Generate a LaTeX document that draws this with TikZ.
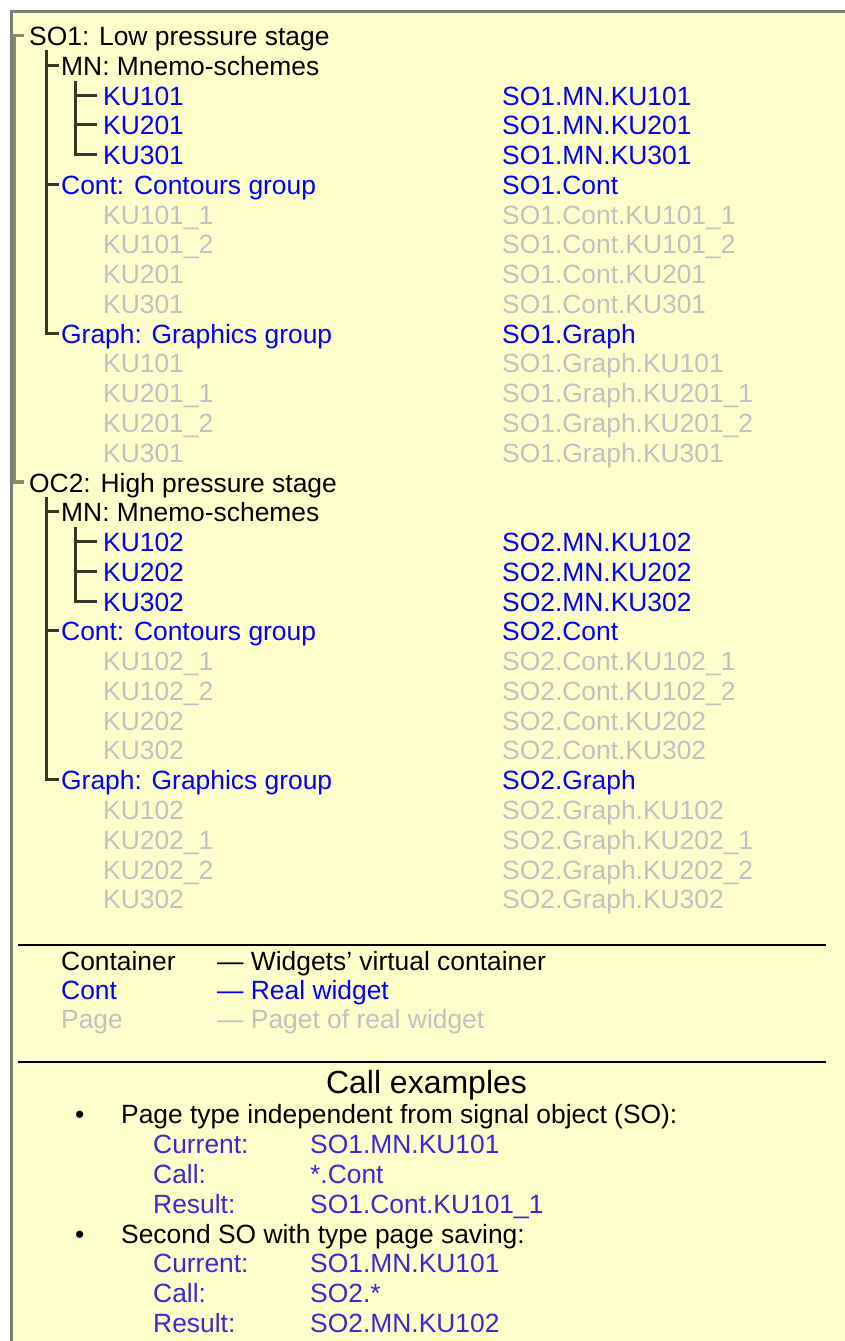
\documentclass[tikz,border=0pt]{standalone}
\usepackage{fontspec}
\setmainfont{Liberation Sans}
\definecolor{bgy}{RGB}{255,255,204}
\definecolor{frm}{RGB}{125,125,115}
\definecolor{tblue}{RGB}{0,0,255}
\definecolor{tgray}{RGB}{192,192,192}
\definecolor{cblue}{RGB}{60,40,210}
\definecolor{lmain}{RGB}{140,140,110}
\definecolor{lsub}{RGB}{55,55,40}
\newcommand{\ry}[1]{45.5+29.77*#1}
\begin{document}
\begin{tikzpicture}[x=1pt,y=-1pt,
 t/.style={inner sep=0pt,anchor=base west,font=\fontsize{26.4}{30}\selectfont},
 tk/.style={t,text=black}, tb/.style={t,text=tblue}, tg/.style={t,text=tgray}, tc/.style={t,text=cblue},
 lnmain/.style={draw=lmain,line width=3.3pt},
 lnsub/.style={draw=lsub,line width=3pt},
 rulel/.style={draw=black,line width=1.5pt}]
\useasboundingbox (0,0) rectangle (845,1341);
\fill[bgy] (10,10) rectangle (845,1341);
\draw[frm,line width=3pt] (11,1341) -- (11,11) -- (845,11);

% ---- tree, SO1
\node[tk] (so1) at (29,{\ry{0}}) {SO1: Low pressure stage};
\node[tk] (mn1) at (61,{\ry{1}}) {MN: Mnemo-schemes};
\node[tb] (k1a) at (103,{\ry{2}}) {KU101};
\node[tb] (k1b) at (103,{\ry{3}}) {KU201};
\node[tb] (k1c) at (103,{\ry{4}}) {KU301};
\node[tb] (ct1) at (61,{\ry{5}}) {Cont: Contours group};
\node[tg] (c1a) at (103,{\ry{6}}) {KU101\_1};
\node[tg] (c1b) at (103,{\ry{7}}) {KU101\_2};
\node[tg] (c1c) at (103,{\ry{8}}) {KU201};
\node[tg] (c1d) at (103,{\ry{9}}) {KU301};
\node[tb] (gr1) at (61,{\ry{10}}) {Graph: Graphics group};
\node[tg] (g1a) at (103,{\ry{11}}) {KU101};
\node[tg] (g1b) at (103,{\ry{12}}) {KU201\_1};
\node[tg] (g1c) at (103,{\ry{13}}) {KU201\_2};
\node[tg] (g1d) at (103,{\ry{14}}) {KU301};
% ---- tree, OC2
\node[tk] (oc2) at (29,{\ry{15}}) {OC2: High pressure stage};
\node[tk] (mn2) at (61,{\ry{16}}) {MN: Mnemo-schemes};
\node[tb] (k2a) at (103,{\ry{17}}) {KU102};
\node[tb] (k2b) at (103,{\ry{18}}) {KU202};
\node[tb] (k2c) at (103,{\ry{19}}) {KU302};
\node[tb] (ct2) at (61,{\ry{20}}) {Cont: Contours group};
\node[tg] (c2a) at (103,{\ry{21}}) {KU102\_1};
\node[tg] (c2b) at (103,{\ry{22}}) {KU102\_2};
\node[tg] (c2c) at (103,{\ry{23}}) {KU202};
\node[tg] (c2d) at (103,{\ry{24}}) {KU302};
\node[tb] (gr2) at (61,{\ry{25}}) {Graph: Graphics group};
\node[tg] (g2a) at (103,{\ry{26}}) {KU102};
\node[tg] (g2b) at (103,{\ry{27}}) {KU202\_1};
\node[tg] (g2c) at (103,{\ry{28}}) {KU202\_2};
\node[tg] (g2d) at (103,{\ry{29}}) {KU302};

% ---- right column
\node[tb] (r02) at (502,{\ry{2}}) {SO1.MN.KU101};
\node[tb] (r03) at (502,{\ry{3}}) {SO1.MN.KU201};
\node[tb] (r04) at (502,{\ry{4}}) {SO1.MN.KU301};
\node[tb] (r05) at (502,{\ry{5}}) {SO1.Cont};
\node[tg] (r06) at (502,{\ry{6}}) {SO1.Cont.KU101\_1};
\node[tg] (r07) at (502,{\ry{7}}) {SO1.Cont.KU101\_2};
\node[tg] (r08) at (502,{\ry{8}}) {SO1.Cont.KU201};
\node[tg] (r09) at (502,{\ry{9}}) {SO1.Cont.KU301};
\node[tb] (r10) at (502,{\ry{10}}) {SO1.Graph};
\node[tg] (r11) at (502,{\ry{11}}) {SO1.Graph.KU101};
\node[tg] (r12) at (502,{\ry{12}}) {SO1.Graph.KU201\_1};
\node[tg] (r13) at (502,{\ry{13}}) {SO1.Graph.KU201\_2};
\node[tg] (r14) at (502,{\ry{14}}) {SO1.Graph.KU301};
\node[tb] (r17) at (502,{\ry{17}}) {SO2.MN.KU102};
\node[tb] (r18) at (502,{\ry{18}}) {SO2.MN.KU202};
\node[tb] (r19) at (502,{\ry{19}}) {SO2.MN.KU302};
\node[tb] (r20) at (502,{\ry{20}}) {SO2.Cont};
\node[tg] (r21) at (502,{\ry{21}}) {SO2.Cont.KU102\_1};
\node[tg] (r22) at (502,{\ry{22}}) {SO2.Cont.KU102\_2};
\node[tg] (r23) at (502,{\ry{23}}) {SO2.Cont.KU202};
\node[tg] (r24) at (502,{\ry{24}}) {SO2.Cont.KU302};
\node[tb] (r25) at (502,{\ry{25}}) {SO2.Graph};
\node[tg] (r26) at (502,{\ry{26}}) {SO2.Graph.KU102};
\node[tg] (r27) at (502,{\ry{27}}) {SO2.Graph.KU202\_1};
\node[tg] (r28) at (502,{\ry{28}}) {SO2.Graph.KU202\_2};
\node[tg] (r29) at (502,{\ry{29}}) {SO2.Graph.KU302};

% ---- tree lines
\foreach \n in {so1,oc2} {\coordinate (\n t) at ([xshift=-5pt,yshift=10pt]\n.base west);}
\foreach \n in {mn1,ct1,gr1,mn2,ct2,gr2} {\coordinate (\n t) at ([xshift=-2pt,yshift=10pt]\n.base west);}
\foreach \n in {k1a,k1b,k1c,k2a,k2b,k2c} {\coordinate (\n t) at ([xshift=-6pt,yshift=10pt]\n.base west);}
\draw[lnmain] (so1t) -- ++(-9.5,0) |- (oc2t);
\foreach \a/\b/\c in {mn1/ct1/gr1,mn2/ct2/gr2} {
  \draw[lnsub] ([yshift=15pt]\a t) ++(-13,0) |- (\c t);
  \draw[lnsub] (\a t) -- ++(-13,0);
  \draw[lnsub] (\b t) -- ++(-13,0);
}
\foreach \a/\b/\c in {k1a/k1b/k1c,k2a/k2b/k2c} {
  \draw[lnsub] ([yshift=14.5pt]\a t) ++(-21.5,0) |- (\c t);
  \draw[lnsub] (\a t) -- ++(-21.5,0);
  \draw[lnsub] (\b t) -- ++(-21.5,0);
}

% ---- legend
\coordinate (ra1) at (18,945);
\coordinate (ra2) at (826,945);
\draw[rulel] (ra1) -- (ra2);
\node[tk] (lg1) at (61,970) {Container};
\node[tk] (lg1d) at (217,970) {— Widgets' virtual container};
\node[tb] (lg2) at (61,999) {Cont};
\node[tb] (lg2d) at (217,999) {— Real widget};
\node[tg] (lg3) at (61,1028) {Page};
\node[tg] (lg3d) at (217,1028) {— Paget of real widget};
\coordinate (rb1) at (18,1062);
\coordinate (rb2) at (826,1062);
\draw[rulel] (rb1) -- (rb2);

% ---- call examples
\node[tk,anchor=base,font=\fontsize{32}{36}\selectfont] (ce) at (426.5,1093.5) {Call examples};
\node[tk] (b1) at (75,1123) {•};
\node[tk] (b1t) at (121,1123) {Page type independent from signal object (SO):};
\node[tc] (e1a) at (153,1153) {Current:};
\node[tc] (e1av) at (310,1153) {SO1.MN.KU101};
\node[tc] (e1b) at (153,1183) {Call:};
\node[tc] (e1bv) at (310,1183) {*.Cont};
\node[tc] (e1c) at (153,1213) {Result:};
\node[tc] (e1cv) at (310,1213) {SO1.Cont.KU101\_1};
\node[tk] (b2) at (75,1243) {•};
\node[tk] (b2t) at (121,1243) {Second SO with type page saving:};
\node[tc] (e2a) at (153,1272) {Current:};
\node[tc] (e2av) at (310,1272) {SO1.MN.KU101};
\node[tc] (e2b) at (153,1302) {Call:};
\node[tc] (e2bv) at (310,1302) {SO2.*};
\node[tc] (e2c) at (153,1332) {Result:};
\node[tc] (e2cv) at (310,1332) {SO2.MN.KU102};
\end{tikzpicture}
\end{document}
